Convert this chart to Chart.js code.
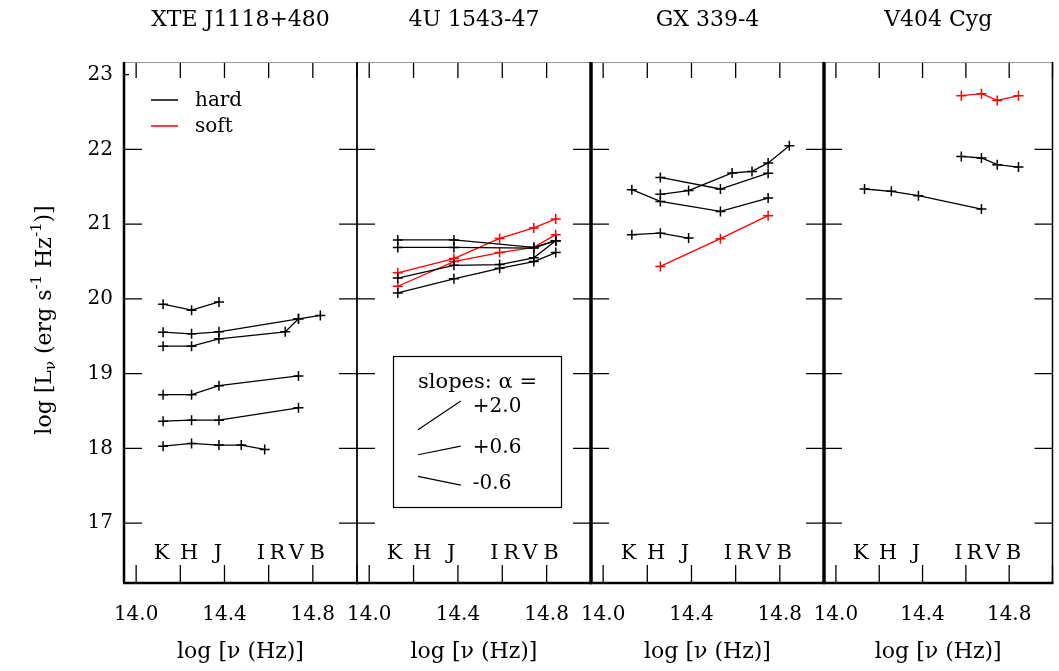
<!DOCTYPE html>
<html>
<head>
<meta charset="utf-8">
<script src="https://cdn.jsdelivr.net/npm/chart.js@4.4.1/dist/chart.umd.min.js"></script>
<style>
  body { margin: 0; background: #fff; }
  #wrap { position: relative; width: 1059px; height: 671px; }
  #wrap canvas { position: absolute; left: 0; top: 0; }
</style>
</head>
<body>
<div id="wrap">
  <canvas id="p0" width="1059" height="671"></canvas>
  <canvas id="p1" width="1059" height="671"></canvas>
  <canvas id="p2" width="1059" height="671"></canvas>
  <canvas id="p3" width="1059" height="671"></canvas>
</div>
<script>
const FONT = '"DejaVu Serif", serif';

const panelTitles = ['XTE J1118+480', '4U 1543-47', 'GX 339-4', 'V404 Cyg'];
const xTicks = [14.0, 14.2, 14.4, 14.6, 14.8, 15.0];
const xTickLabels = ['14.0', '', '14.4', '', '14.8', ''];
const yTicks = [17, 18, 19, 20, 21, 22, 23];
const bandNames = ['K', 'H', 'J', 'I', 'R', 'V', 'B'];
const bandLabelNu = [14.115, 14.24, 14.37, 14.565, 14.64, 14.725, 14.82];
const slopes = [2.0, 0.6, -0.6];
const slopeLabels = ['+2.0', '+0.6', '-0.6'];

// [log nu, log L_nu]
const xteHard = [
  [[14.122, 19.93], [14.251, 19.85], [14.375, 19.96]],
  [[14.122, 19.555], [14.251, 19.533], [14.375, 19.56], [14.735, 19.734], [14.834, 19.78]],
  [[14.122, 19.368], [14.251, 19.368], [14.375, 19.467], [14.675, 19.56], [14.735, 19.734]],
  [[14.122, 18.72], [14.251, 18.72], [14.375, 18.84], [14.735, 18.97]],
  [[14.122, 18.365], [14.251, 18.378], [14.375, 18.378], [14.735, 18.544]],
  [[14.122, 18.03], [14.251, 18.067], [14.375, 18.045], [14.476, 18.045], [14.582, 17.987]]
];
const xteSoft = [];

const u1543Hard = [
  [[14.129, 20.79], [14.382, 20.79], [14.742, 20.69], [14.841, 20.78]],
  [[14.129, 20.69], [14.382, 20.69], [14.742, 20.68], [14.841, 20.78]],
  [[14.129, 20.28], [14.382, 20.45], [14.588, 20.46], [14.742, 20.55], [14.841, 20.78]],
  [[14.129, 20.08], [14.382, 20.27], [14.588, 20.41], [14.742, 20.50], [14.841, 20.62]]
];
const u1543Soft = [
  [[14.129, 20.35], [14.382, 20.54], [14.588, 20.81], [14.742, 20.95], [14.841, 21.07]],
  [[14.129, 20.17], [14.382, 20.50], [14.588, 20.62], [14.742, 20.69], [14.841, 20.86]]
];

const gx339Hard = [
  [[14.259, 21.626], [14.531, 21.471], [14.747, 21.682]],
  [[14.130, 21.462], [14.259, 21.305], [14.531, 21.171], [14.747, 21.35]],
  [[14.259, 21.40], [14.387, 21.45], [14.584, 21.685], [14.674, 21.706], [14.747, 21.82], [14.843, 22.05]],
  [[14.130, 20.86], [14.259, 20.88], [14.387, 20.815]]
];
const gx339Soft = [
  [[14.259, 20.435], [14.531, 20.806], [14.747, 21.114]]
];

const v404Hard = [
  [[14.579, 21.907], [14.672, 21.886], [14.745, 21.796], [14.843, 21.765]],
  [[14.132, 21.471], [14.256, 21.44], [14.381, 21.381], [14.672, 21.203]]
];
const v404Soft = [
  [[14.579, 22.72], [14.672, 22.746], [14.745, 22.656], [14.843, 22.72]]
];

const panels = [
  { hard: xteHard, soft: xteSoft, left: 124, right: 357, lw: 2.5, rw: 1.3 },
  { hard: u1543Hard, soft: u1543Soft, left: 357, right: 591, lw: 1.3, rw: 3 },
  { hard: gx339Hard, soft: gx339Soft, left: 591, right: 824, lw: 3, rw: 3 },
  { hard: v404Hard, soft: v404Soft, left: 824, right: 1058, lw: 3, rw: 1.5 }
];

function lineStyle(series, color) {
  return {
    data: series.map(p => ({ x: p[0], y: p[1] })),
    borderColor: color,
    backgroundColor: color,
    borderWidth: 1.3,
    pointStyle: 'cross',
    pointRadius: 5,
    pointHoverRadius: 5,
    pointBorderWidth: 1.5,
    tension: 0,
    fill: false
  };
}

// frame, inward ticks, band letters, legend and the slope box
const framePlugin = {
  id: 'frame',
  afterDraw(chart, args, opts) {
    const { ctx, chartArea: a, scales: { x, y } } = chart;
    const i = opts.index;
    const p = panels[i];
    ctx.save();
    ctx.strokeStyle = '#000';
    ctx.fillStyle = '#000';
    ctx.lineWidth = 1.3;

    ctx.beginPath();
    xTicks.forEach(v => {
      const px = x.getPixelForValue(v);
      ctx.moveTo(px, a.bottom); ctx.lineTo(px, a.bottom - 18);
      ctx.moveTo(px, a.top); ctx.lineTo(px, a.top + 16);
    });
    yTicks.forEach(v => {
      const py = y.getPixelForValue(v);
      if (v === 23) {
        if (i === 0) { ctx.moveTo(a.left, py); ctx.lineTo(a.left + 5, py); }
        return;
      }
      ctx.moveTo(a.left, py); ctx.lineTo(a.left + 18, py);
      ctx.moveTo(a.right, py); ctx.lineTo(a.right - 18, py);
    });
    ctx.stroke();

    // borders
    ctx.strokeStyle = '#999';
    ctx.lineWidth = 1;
    ctx.beginPath(); ctx.moveTo(a.left, a.top + 0.5); ctx.lineTo(a.right, a.top + 0.5); ctx.stroke();
    ctx.strokeStyle = '#000';
    ctx.lineWidth = 2.5;
    ctx.beginPath(); ctx.moveTo(a.left - 1, a.bottom); ctx.lineTo(a.right + 1, a.bottom); ctx.stroke();
    ctx.lineWidth = p.lw;
    ctx.beginPath(); ctx.moveTo(a.left, a.top); ctx.lineTo(a.left, a.bottom); ctx.stroke();
    ctx.lineWidth = p.rw;
    ctx.beginPath(); ctx.moveTo(a.right, a.top); ctx.lineTo(a.right, a.bottom); ctx.stroke();

    // band letters
    ctx.font = '21px ' + FONT;
    ctx.textAlign = 'center';
    ctx.textBaseline = 'middle';
    bandNames.forEach((b, k) => {
      ctx.fillText(b, x.getPixelForValue(bandLabelNu[k]), a.bottom - 29);
    });

    if (i === 0) {
      // legend
      ctx.lineWidth = 1.5;
      ctx.strokeStyle = '#000';
      ctx.beginPath(); ctx.moveTo(a.left + 27, a.top + 38); ctx.lineTo(a.left + 54, a.top + 38); ctx.stroke();
      ctx.strokeStyle = '#ff0000';
      ctx.beginPath(); ctx.moveTo(a.left + 27, a.top + 64); ctx.lineTo(a.left + 54, a.top + 64); ctx.stroke();
      ctx.font = '20px ' + FONT;
      ctx.textAlign = 'left';
      ctx.fillText('hard', a.left + 71, a.top + 39);
      ctx.fillText('soft', a.left + 71, a.top + 65);

      // y axis title with sub/superscripts
      const parts = [
        ['log [L', 22, 0], ['\u03bd', 15, 6], [' (erg s', 22, 0], ['-1', 15, -8],
        [' Hz', 22, 0], ['-1', 15, -8], [')]', 22, 0]
      ];
      let total = 0;
      parts.forEach(q => { ctx.font = q[1] + 'px ' + FONT; total += ctx.measureText(q[0]).width; });
      ctx.translate(45, 320);
      ctx.rotate(-Math.PI / 2);
      let cx = -total / 2;
      parts.forEach(q => {
        ctx.font = q[1] + 'px ' + FONT;
        ctx.fillText(q[0], cx, q[2]);
        cx += ctx.measureText(q[0]).width;
      });
    }

    if (i === 1) {
      // slope key
      ctx.lineWidth = 1.2;
      ctx.strokeStyle = '#000';
      ctx.strokeRect(a.left + 36.5, 356.5, 168, 151);
      ctx.font = '21px ' + FONT;
      ctx.textAlign = 'left';
      ctx.fillText('slopes: \u03b1 =', a.left + 61, 383);
      const nu0 = 14.22, dnu = 0.193;
      const L0 = [18.25, 17.916, 17.626];
      ctx.font = '20px ' + FONT;
      slopes.forEach((s, k) => {
        const x0 = x.getPixelForValue(nu0), y0 = y.getPixelForValue(L0[k]);
        const x1 = x.getPixelForValue(nu0 + dnu), y1 = y.getPixelForValue(L0[k] + s * dnu);
        ctx.beginPath(); ctx.moveTo(x0, y0); ctx.lineTo(x1, y1); ctx.stroke();
        ctx.fillText(slopeLabels[k], x1 + 12, y1 + (y0 - y1) * 0.2);
      });
    }
    ctx.restore();
  }
};

panels.forEach((p, i) => {
  const datasets = [];
  p.hard.forEach(s => datasets.push(lineStyle(s, '#000000')));
  p.soft.forEach(s => datasets.push(lineStyle(s, '#ff0000')));

  new Chart(document.getElementById('p' + i), {
    type: 'line',
    data: { datasets },
    options: {
      responsive: false,
      animation: false,
      devicePixelRatio: 1,
      layout: { padding: { top: 0, left: 0, bottom: 0, right: 1059 - p.right } },
      plugins: {
        legend: { display: false },
        tooltip: { enabled: false },
        title: {
          display: true,
          fullSize: false,
          text: panelTitles[i],
          color: '#000',
          font: { family: FONT, size: 22, weight: 'normal' },
          padding: { top: 7, bottom: 62 - 7 - 26.4 }
        },
        frame: { index: i }
      },
      scales: {
        x: {
          type: 'linear',
          min: 13.945,
          max: 15.0,
          afterBuildTicks: s => { s.ticks = xTicks.map(v => ({ value: v })); },
          afterFit: s => { s.height = 88; s.paddingLeft = 0; s.paddingRight = 0; },
          grid: { display: false, drawTicks: false },
          border: { display: false },
          ticks: {
            autoSkip: false,
            maxRotation: 0,
            padding: 20,
            color: '#000',
            font: { family: FONT, size: 20 },
            callback: (v, k) => xTickLabels[k]
          },
          title: {
            display: true,
            text: 'log [\u03bd (Hz)]',
            color: '#000',
            font: { family: FONT, size: 22 },
            padding: { top: 0, bottom: 6 }
          }
        },
        y: {
          type: 'linear',
          min: 16.2,
          max: 23.17,
          afterBuildTicks: s => { s.ticks = yTicks.map(v => ({ value: v })); },
          afterFit: s => { s.width = p.left; s.paddingTop = 0; s.paddingBottom = 0; },
          grid: { display: false, drawTicks: false },
          border: { display: false },
          ticks: {
            display: i === 0,
            padding: 11,
            color: '#000',
            font: { family: FONT, size: 20 },
            callback: v => String(v)
          }
        }
      }
    },
    plugins: [framePlugin]
  });
});
</script>
</body>
</html>
